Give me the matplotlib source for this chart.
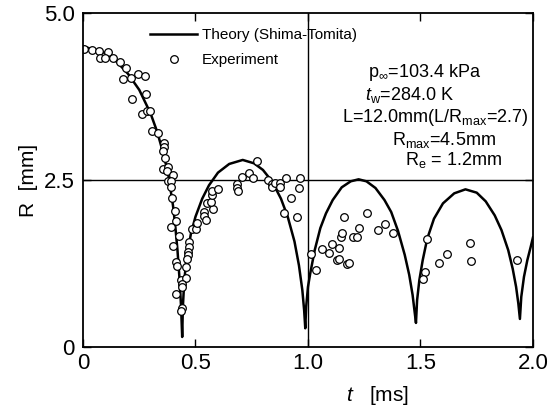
import matplotlib
matplotlib.use('Agg')
import matplotlib.pyplot as plt

# theory curve (Shima-Tomita)
t_theory = [0.00, 0.10, 0.15, 0.20, 0.25, 0.30, 0.33, 0.36, 0.38, 0.40, 0.41, 0.42, 0.43, 0.436, 0.441,
            0.444, 0.45, 0.46, 0.48, 0.50, 0.53, 0.56, 0.60, 0.65, 0.71, 0.76, 0.80, 0.84, 0.88, 0.91,
            0.94, 0.96, 0.975, 0.983, 0.988,
            0.992, 1.00, 1.01, 1.03, 1.055, 1.08, 1.11, 1.15, 1.19, 1.225, 1.26, 1.30, 1.34, 1.37, 1.40,
            1.43, 1.45, 1.465, 1.475, 1.48,
            1.485, 1.495, 1.51, 1.53, 1.56, 1.60, 1.65, 1.70, 1.75, 1.79, 1.83, 1.86, 1.89, 1.91, 1.925,
            1.935, 1.942,
            1.948, 1.96, 1.975, 1.99, 2.00]
r_theory = [4.50, 4.40, 4.27, 4.09, 3.85, 3.50, 3.22, 2.86, 2.56, 2.12, 1.82, 1.45, 0.98, 0.60, 0.15,
            0.60, 0.98, 1.32, 1.70, 1.95, 2.22, 2.42, 2.61, 2.74, 2.80, 2.75, 2.65, 2.48, 2.22, 1.95,
            1.58, 1.22, 0.85, 0.55, 0.28,
            0.60, 0.90, 1.10, 1.45, 1.78, 2.00, 2.20, 2.39, 2.48, 2.51, 2.48, 2.38, 2.20, 2.02, 1.74,
            1.38, 1.08, 0.78, 0.50, 0.36,
            0.70, 1.00, 1.30, 1.62, 1.92, 2.15, 2.30, 2.36, 2.31, 2.18, 1.97, 1.75, 1.45, 1.17, 0.90,
            0.65, 0.42,
            0.75, 1.05, 1.30, 1.50, 1.64]

# experiment
t_exp = [0.004, 0.041, 0.071, 0.111, 0.074, 0.099, 0.133, 0.163, 0.19, 0.178, 0.212, 0.244, 0.274,
         0.219, 0.279, 0.264, 0.286, 0.296, 0.307, 0.333, 0.36,
         0.361, 0.357, 0.364, 0.357, 0.379, 0.372, 0.401, 0.376, 0.391, 0.391, 0.394, 0.409, 0.412,
         0.391, 0.428,
         0.399, 0.472, 0.472, 0.468, 0.465, 0.412, 0.416, 0.461, 0.458, 0.436, 0.458, 0.439, 0.441,
         0.413, 0.441, 0.436,
         0.483, 0.501, 0.505, 0.538, 0.538, 0.547, 0.576, 0.552, 0.567, 0.572, 0.572, 0.599,
         0.683, 0.683, 0.69, 0.705, 0.739, 0.757, 0.772, 0.821, 0.841, 0.839, 0.853, 0.876, 0.876,
         0.901, 0.924, 0.895, 0.952, 0.96, 0.964,
         1.012, 1.036, 1.061, 1.093, 1.105, 1.139, 1.13, 1.139, 1.172, 1.182, 1.145, 1.15, 1.161,
         1.201, 1.216, 1.227, 1.264, 1.31, 1.342, 1.379,
         1.53, 1.52, 1.51, 1.584, 1.619, 1.72, 1.723, 1.927]
r_exp = [4.46, 4.45, 4.43, 4.42, 4.32, 4.32, 4.33, 4.27, 4.17, 4.01, 4.02, 4.09, 4.06,
         3.71, 3.78, 3.49, 3.53, 3.53, 3.23, 3.21, 3.06,
         3.00, 2.94, 2.83, 2.66, 2.69, 2.63, 2.58, 2.48, 2.48, 2.39, 2.23, 2.04, 1.88,
         1.79, 1.66,
         1.51, 1.57, 1.50, 1.42, 1.37, 1.27, 1.21, 1.32, 1.19, 1.01, 1.03, 0.95, 0.90,
         0.79, 0.59, 0.54,
         1.76, 1.76, 1.85, 2.02, 1.96, 1.90, 2.07, 2.16, 2.17, 2.28, 2.33, 2.37,
         2.44, 2.38, 2.33, 2.54, 2.60, 2.53, 2.79, 2.50, 2.44, 2.39, 2.46, 2.46, 2.39,
         2.53, 2.23, 2.00, 1.94, 2.38, 2.53,
         1.39, 1.15, 1.46, 1.41, 1.54, 1.48, 1.30, 1.32, 1.24, 1.26, 1.64, 1.70, 1.94,
         1.64, 1.64, 1.78, 2.00, 1.75, 1.84, 1.71,
         1.62, 1.13, 1.02, 1.26, 1.39, 1.56, 1.29, 1.30]

xticks = [0, 0.5, 1.0, 1.5, 2.0]
xticklabels = ['0', '0.5', '1.0', '1.5', '2.0']
yticks = [0, 2.5, 5.0]
yticklabels = ['0', '2.5', '5.0']

plt.rcParams['font.family'] = ['Liberation Sans', 'DejaVu Sans']
plt.rcParams['mathtext.fontset'] = 'custom'
plt.rcParams['mathtext.rm'] = 'Liberation Sans'
plt.rcParams['mathtext.it'] = 'Liberation Sans:italic'

fig = plt.figure(figsize=(5.55, 4.12), dpi=100)
ax = fig.add_axes([0.1495, 0.1578, 0.8108, 0.8107])

ax.axhline(2.5, color='black', lw=1.0)
ax.axvline(1.0, color='black', lw=1.0)

ax.plot(t_theory, r_theory, color='black', lw=1.8, label='Theory (Shima-Tomita)')
ax.plot(t_exp, r_exp, 'o', mfc='white', mec='black', ms=5.5, mew=0.9, label='Experiment')

ax.set_xlim(0, 2.0)
ax.set_ylim(0, 5.0)
ax.set_xticks(xticks)
ax.set_xticklabels(xticklabels)
ax.set_yticks(yticks)
ax.set_yticklabels(yticklabels)
ax.tick_params(direction='in', top=True, right=True, length=6, width=1.0, labelsize=16)
ax.tick_params(axis='x', pad=4)
ax.tick_params(axis='y', pad=6)
for s in ax.spines.values():
    s.set_linewidth(1.3)

ax.set_xlabel(r'$t$   [ms]', fontsize=15)
ax.xaxis.set_label_coords(0.655, -0.112)
ax.set_ylabel('R  [mm]', fontsize=15, labelpad=4)

leg = ax.legend(loc='upper left', bbox_to_anchor=(0.149, 0.955), frameon=False, fontsize=11,
                handlelength=3.1, handletextpad=0.3, borderpad=0, borderaxespad=0,
                labelspacing=0.75, numpoints=1)

txt = dict(transform=ax.transAxes, fontsize=13, va='center', ha='left')
ax.text(0.633, 0.823, r'p$_\infty$=103.4 kPa', **txt)
ax.text(0.627, 0.754, r'$t_{\rm w}$=284.0 K', **txt)
ax.text(0.576, 0.687, r'L=12.0mm(L/R$_{\rm max}$=2.7)', **txt)
ax.text(0.687, 0.620, r'R$_{\rm max}$=4.5mm', **txt)
ax.text(0.716, 0.560, r'R$_{\rm e}$ = 1.2mm', **txt)

fig.savefig('out.png', dpi=100)
